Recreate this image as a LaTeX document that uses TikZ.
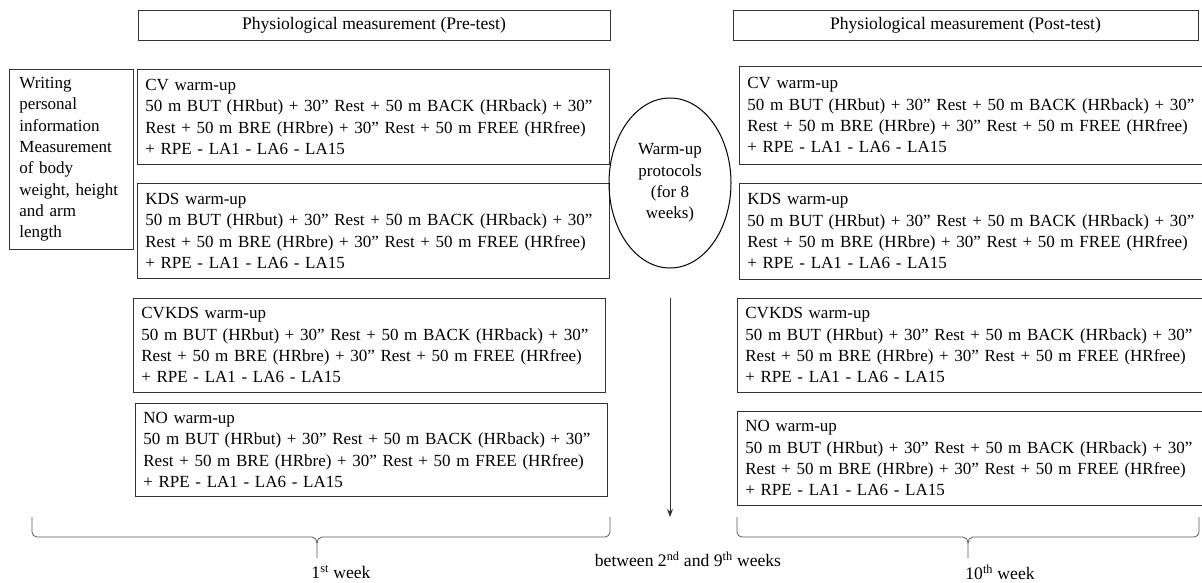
\documentclass[tikz,border=0pt]{standalone}
\usepackage{fontspec}
\setmainfont{Liberation Serif}
\usetikzlibrary{shapes.geometric,arrows.meta}

\newcommand{\warmuptext}[1]{#1 warm-up\\50 m BUT (HRbut) + 30” Rest + 50 m BACK (HRback) + 30”\\Rest + 50 m BRE (HRbre) + 30” Rest + 50 m FREE (HRfree)\\+ RPE - LA1 - LA6 - LA15}

\begin{document}
\begin{tikzpicture}[
		x=1pt, y=-1pt,
		font=\fontsize{17.6}{21.3}\selectfont,
		line width=0.8pt,
		headbox/.style={draw=black!80, minimum height=30pt},
		protbox/.style={draw=black!80, anchor=north west, text width=456pt, inner xsep=8pt, align=left,
			font=\fontsize{17}{21.3}\selectfont},
		weekbrace/.style={draw=black!65}
	]
	\useasboundingbox (0,0) rectangle (1202,583);
	\clip (0,0) rectangle (1202,583);

	% headers
	\node[headbox, minimum width=472pt] (pre) at (374,25) {Physiological measurement (Pre-test)};
	\node[headbox, minimum width=465pt] (post) at (965.5,25) {Physiological measurement (Post-test)};

	% personal data
	\node[draw=black!80, anchor=north west, minimum width=124pt, minimum height=180pt,
		text width=104pt, inner xsep=10pt, align=left, font=\fontsize{17}{21.3}\selectfont] (info) at (9,69)
		{Writing\\personal\\information\\Measurement\\of body\\weight, height\\and arm\\length};

	% pre-test protocols
	\node[protbox, minimum height=95pt] (precv) at (137,69) {\warmuptext{CV}};
	\node[protbox, minimum height=95pt] (prekds) at (137,183) {\warmuptext{KDS}};
	\node[protbox, minimum height=94pt] (precvkds) at (133,298) {\warmuptext{CVKDS}};
	\node[protbox, minimum height=93pt] (preno) at (135,403) {\warmuptext{NO}};

	% training period
	\node[ellipse, draw=black, line width=1pt, minimum width=122pt, minimum height=170pt, inner sep=0pt, align=center,
		font=\fontsize{17}{21.3}\selectfont] (protocols) at (670,183) {Warm-up\\protocols\\(for 8\\weeks)};
	\coordinate (arrowtop) at (670,298);
	\coordinate (arrowend) at (670,517);
	\draw[black!80, -{Stealth[length=8pt,width=6pt]}] (arrowtop) -- (arrowend);

	% post-test protocols
	\node[protbox, minimum height=98pt] (postcv) at (739,66) {\warmuptext{CV}};
	\node[protbox, minimum height=96pt] (postkds) at (739,183) {\warmuptext{KDS}};
	\node[protbox, minimum height=94pt] (postcvkds) at (737,298) {\warmuptext{CVKDS}};
	\node[protbox, minimum height=94pt] (postno) at (737,411) {\warmuptext{NO}};

	% time line
	\coordinate (firstleft) at (32,517);
	\coordinate (firsttip) at (317,558);
	\coordinate (firstright) at (610,517);
	\coordinate (lastleft) at (737,517);
	\coordinate (lasttip) at (968,558);
	\coordinate (lastright) at (1199,517);
	\draw[weekbrace] (firstleft) -- ++(0,15) to[out=-90,in=180] ++(5,5) -- (312,537)
		to[out=0,in=90] (317,543) -- (firsttip);
	\draw[weekbrace] (317,543) to[out=90,in=180] (322,537) -- (605,537)
		to[out=0,in=-90] (610,532) -- (firstright);
	\draw[weekbrace] (lastleft) -- ++(0,15) to[out=-90,in=180] ++(5,5) -- (963,537)
		to[out=0,in=90] (968,543) -- (lasttip);
	\draw[weekbrace] (968,543) to[out=90,in=180] (973,537) -- (1194,537)
		to[out=0,in=-90] (1199,532) -- (lastright);

	\node (week1) at (341,572) {1\textsuperscript{st} week};
	\node (weeks2to9) at (688,559) {between 2\textsuperscript{nd} and 9\textsuperscript{th} weeks};
	\node (week10) at (1000,572) {10\textsuperscript{th} week};
\end{tikzpicture}
\end{document}
